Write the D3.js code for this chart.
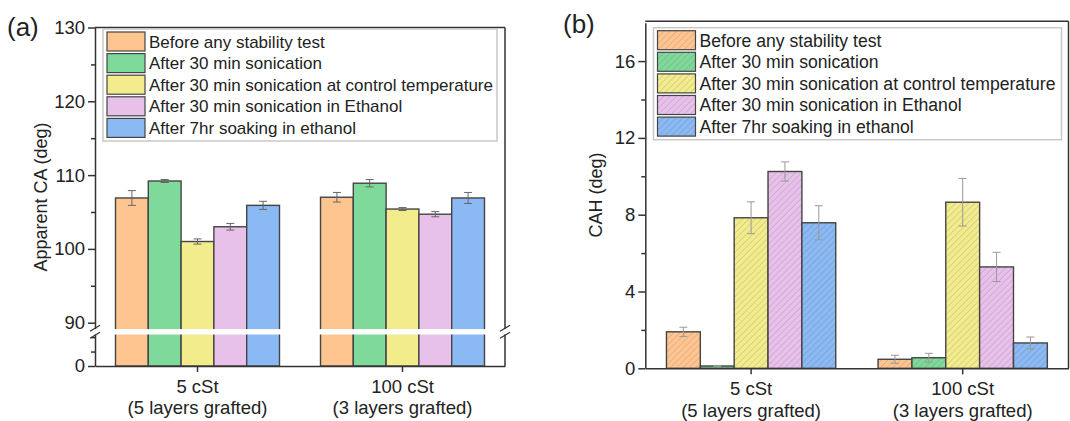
<!DOCTYPE html>
<html>
<head>
<meta charset="utf-8">
<script src="https://cdn.jsdelivr.net/npm/d3@7"></script>
<style>
  body { margin: 0; background: #fff; }
  svg { font-family: "Liberation Sans", Arial, sans-serif; }
  .axis path, .axis line { stroke: #333; stroke-width: 1.5; }
  .axis text { font-size: 18.5px; fill: #222; }
</style>
</head>
<body>
<div class="chart"></div>
<script>
// data
const groups = ["5 cSt", "100 cSt"];
const groupSub = ["(5 layers grafted)", "(3 layers grafted)"];
const seriesNames = [
  "Before any stability test",
  "After 30 min sonication",
  "After 30 min sonication at control temperature",
  "After 30 min sonication in Ethanol",
  "After 7hr soaking in ethanol"
];
const colors = ["#ffc590", "#7ed99a", "#f3ec8d", "#e8c1eb", "#8ab9f3"];

// (a) apparent contact angle, one array per series [5 cSt, 100 cSt]
const caBefore   = [106.9, 107.0];
const caSonic    = [109.2, 108.9];
const caControl  = [101.0, 105.4];
const caEthanol  = [103.0, 104.7];
const caSoak     = [105.9, 106.9];
const caErr = [[1.0, 0.65], [0.2, 0.5], [0.35, 0.2], [0.45, 0.35], [0.55, 0.75]];
const caTicks = [90, 100, 110, 120, 130];
const caMinor = [95, 105, 115, 125];
const caLowTicks = [0];
const caLowMinor = [4, 8];

// (b) contact angle hysteresis
const cahBefore  = [1.9, 0.47];
const cahSonic   = [0.12, 0.55];
const cahControl = [7.84, 8.65];
const cahEthanol = [10.25, 5.28];
const cahSoak    = [7.58, 1.32];
const cahErr = [[0.24, 0.21], [0.03, 0.23], [0.83, 1.24], [0.5, 0.76], [0.89, 0.31]];
const cahTicks = [0, 4, 8, 12, 16];
const cahMinor = [2, 6, 10, 14];

const caSeries = [caBefore, caSonic, caControl, caEthanol, caSoak];
const cahSeries = [cahBefore, cahSonic, cahControl, cahEthanol, cahSoak];

const svg = d3.select('.chart')
  .append('svg')
  .attr('width', 1070)
  .attr('height', 421);

// hatch patterns for panel b
const defs = svg.append('defs');
colors.forEach((c, i) => {
  const p = defs.append('pattern')
    .attr('id', 'hatch' + i)
    .attr('patternUnits', 'userSpaceOnUse')
    .attr('width', 4.5)
    .attr('height', 4.5)
    .attr('patternTransform', 'rotate(45)');
  p.append('rect').attr('width', 4.5).attr('height', 4.5).attr('fill', c);
  p.append('line')
    .attr('x1', 0).attr('y1', 0).attr('x2', 0).attr('y2', 4.5)
    .attr('stroke', 'rgba(70,70,70,0.28)')
    .attr('stroke-width', 1.1);
});

function drawPanel(opt) {
  const g = svg.append('g');

  const x0 = d3.scaleBand()
    .domain(groups)
    .range([opt.left, opt.right])
    .paddingInner(0.2)
    .paddingOuter(0.1);
  const x1 = d3.scaleBand()
    .domain(d3.range(seriesNames.length))
    .range([0, x0.bandwidth()]);
  const y = opt.y;

  // bars
  opt.series.forEach((vals, s) => {
    g.selectAll('.bar' + s)
      .data(vals)
      .enter()
      .append('rect')
      .attr('x', (d, i) => x0(groups[i]) + x1(s))
      .attr('y', d => y(d))
      .attr('width', x1.bandwidth())
      .attr('height', d => y(0) - y(d))
      .attr('fill', opt.hatch ? 'url(#hatch' + s + ')' : colors[s])
      .attr('stroke', '#444')
      .attr('stroke-width', 1.4);

    // error bars
    const eb = g.selectAll('.err' + s)
      .data(vals)
      .enter()
      .append('g')
      .attr('stroke', opt.errColor)
      .attr('stroke-width', 1);
    const cx = (d, i) => x0(groups[i]) + x1(s) + x1.bandwidth() / 2;
    eb.append('line')
      .attr('x1', cx).attr('x2', cx)
      .attr('y1', (d, i) => y(d - opt.err[s][i]))
      .attr('y2', (d, i) => y(d + opt.err[s][i]));
    [-1, 1].forEach(k => {
      eb.append('line')
        .attr('x1', (d, i) => cx(d, i) - 4).attr('x2', (d, i) => cx(d, i) + 4)
        .attr('y1', (d, i) => y(d + k * opt.err[s][i]))
        .attr('y2', (d, i) => y(d + k * opt.err[s][i]));
    });
  });

  // frame top + right
  g.append('line')
    .attr('x1', opt.left).attr('x2', opt.right)
    .attr('y1', opt.top).attr('y2', opt.top)
    .attr('stroke', '#333').attr('stroke-width', 1.5);
  g.append('line')
    .attr('x1', opt.right).attr('x2', opt.right)
    .attr('y1', opt.top).attr('y2', y(0))
    .attr('stroke', '#333').attr('stroke-width', 1.5);

  // y axis
  g.append('g')
    .attr('class', 'axis')
    .attr('transform', 'translate(' + opt.left + ',0)')
    .call(d3.axisLeft(y).tickValues(opt.ticks).tickSize(7).tickPadding(3).tickSizeOuter(0));
  g.append('g')
    .attr('class', 'axis')
    .attr('transform', 'translate(' + opt.left + ',0)')
    .call(d3.axisLeft(y).tickValues(opt.minor).tickSize(4).tickFormat('').tickSizeOuter(0))
    .select('.domain').remove();

  // x axis
  const xa = g.append('g')
    .attr('class', 'axis')
    .attr('transform', 'translate(0,' + y(0) + ')')
    .call(d3.axisBottom(x0).tickSize(6).tickSizeOuter(0).tickPadding(8));
  xa.selectAll('.tick text')
    .each(function(d, i) {
      const t = d3.select(this);
      t.text(null);
      t.append('tspan').attr('x', 0).attr('dy', '0.71em').text(d);
      t.append('tspan').attr('x', 0).attr('dy', '1.15em').text(groupSub[i]);
    });

  // y title
  g.append('text')
    .attr('transform', 'translate(' + opt.titleX + ',' + opt.titleY + ') rotate(-90)')
    .attr('text-anchor', 'middle')
    .attr('dy', '0.35em')
    .attr('font-size', '18px')
    .attr('fill', '#222')
    .text(opt.title);

  // panel letter
  g.append('text')
    .attr('x', opt.letterX).attr('y', opt.letterY)
    .attr('font-size', '26px')
    .attr('fill', '#222')
    .text(opt.letter);

  // legend
  const lg = g.append('g').attr('transform', 'translate(' + opt.legX + ',' + opt.legY + ')');
  lg.append('rect')
    .attr('width', opt.legW).attr('height', 112)
    .attr('fill', '#fff')
    .attr('stroke', '#c8c8c8')
    .attr('stroke-width', 1.5);
  seriesNames.forEach((name, s) => {
    const row = lg.append('g').attr('transform', 'translate(4,' + (3 + s * 21.6) + ')');
    row.append('rect')
      .attr('width', 38).attr('height', 19)
      .attr('fill', opt.hatch ? 'url(#hatch' + s + ')' : colors[s])
      .attr('stroke', '#444')
      .attr('stroke-width', 1.2);
    row.append('text')
      .attr('x', 42).attr('y', 9.5)
      .attr('dy', '0.36em')
      .attr('font-size', opt.legFont)
      .attr('fill', '#222')
      .text(name);
  });

  return g;
}

// panel (a): broken y axis
const yA = d3.scaleLinear()
  .domain([0, 9.5, 88.78, 130])
  .range([366, 331.7, 331.7, 27.5]);

const ga = drawPanel({
  left: 95, right: 505, top: 27.5, y: yA,
  series: caSeries, err: caErr, errColor: '#666', hatch: false,
  ticks: caLowTicks.concat(caTicks), minor: caLowMinor.concat(caMinor),
  title: 'Apparent CA (deg)', titleX: 41, titleY: 197,
  letter: '(a)', letterX: 7, letterY: 36,
  legX: 103, legY: 29, legW: 394, legFont: '17px'
});

// break band and slashes
ga.append('rect')
  .attr('x', 90).attr('y', yA(88.78) - 2.6)
  .attr('width', 420).attr('height', 5.4)
  .attr('fill', '#fff');
[95, 505].forEach(bx => {
  [-3.5, 3.5].forEach(off => {
    ga.append('line')
      .attr('x1', bx - 5).attr('y1', yA(88.78) + off + 3)
      .attr('x2', bx + 5).attr('y2', yA(88.78) + off - 3)
      .attr('stroke', '#333').attr('stroke-width', 1.2);
  });
});

// panel (b)
const yB = d3.scaleLinear()
  .domain([0, 18])
  .range([368.3, 22.7]);

drawPanel({
  left: 645.3, right: 1068.5, top: 21.3, y: yB,
  series: cahSeries, err: cahErr, errColor: '#999', hatch: true,
  ticks: cahTicks, minor: cahMinor,
  title: 'CAH (deg)', titleX: 596, titleY: 195,
  letter: '(b)', letterX: 563, letterY: 33,
  legX: 653.5, legY: 27.7, legW: 408, legFont: '17.6px'
});
</script>
</body>
</html>
